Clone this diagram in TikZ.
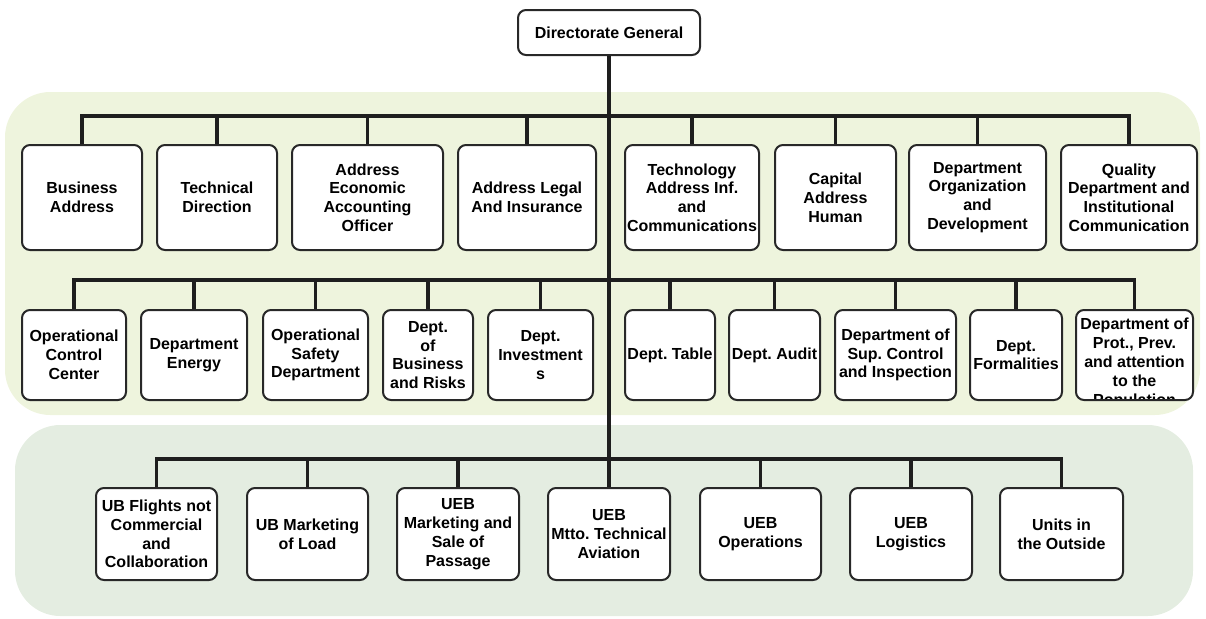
\documentclass[tikz,border=0pt]{standalone}
\usepackage{fontspec}
\setmainfont{Liberation Sans}
\frenchspacing
\definecolor{regA}{RGB}{238,244,221}
\definecolor{regB}{RGB}{228,237,225}
\definecolor{edge}{RGB}{40,40,40}
\definecolor{linec}{RGB}{30,30,30}
\newcommand\orgfont{\bfseries\fontsize{12}{14.1}\selectfont}
\tikzset{
  box/.style={draw=edge, line width=1.5pt, fill=white, rounded corners=6pt,
    align=center, inner sep=1pt, font=\orgfont},
  conn/.style={draw=linec, line width=2.5pt},
  busline/.style={conn, line cap=rect},
  region/.style={rounded corners=34pt}
}
% name, left, right, top, bottom (px), text
\newcommand\ob[6]{\node[box, minimum width={(#3-#2)*0.75pt}, minimum height={(#5-#4)*0.75pt}] (#1) at ({(#2+#3)/2},{(#4+#5)/2}) {#6};}
\begin{document}
\begin{tikzpicture}[x=0.75pt,y=-0.75pt]
\useasboundingbox (0,0) rectangle (1206,618);
\fill[regA, region] (5,92) rectangle (1200,415);
\fill[regB, region] (15,425) rectangle (1193,616);

\ob{dg}{518}{700}{10}{55}{Directorate General}

\ob{a1}{22}{142}{145}{250}{Business\\Address}
\ob{a2}{157}{277}{145}{250}{Technical\\Direction}
\ob{a3}{292}{443}{145}{250}{Address\\Economic\\Accounting\\Officer}
\ob{a4}{458}{596}{145}{250}{Address Legal\\And Insurance}
\ob{a5}{625}{759}{145}{250}{Technology\\Address Inf.\\and\\Communications}
\ob{a6}{775}{896}{145}{250}{Capital\\Address\\Human}
\ob{a7}{909}{1046}{145}{250}{Department\\Organization\\and\\Development}
\ob{a8}{1061}{1197}{145}{250}{Quality\\Department and\\Institutional\\Communication}

\ob{b1}{22}{126}{310}{400}{Operational\\Control\\Center}
\ob{b2}{141}{247}{310}{400}{Department\\Energy}
\ob{b3}{263}{368}{310}{400}{Operational\\Safety\\Department}
\ob{b4}{383}{473}{310}{400}{Dept.\\of\\Business\\and Risks}
\ob{b5}{488}{593}{310}{400}{Dept.\\Investment\\s}
\ob{b6}{625}{715}{310}{400}{Dept. Table}
\ob{b7}{729}{820}{310}{400}{Dept. Audit}
\ob{b8}{835}{956}{310}{400}{Department of\\Sup. Control\\and Inspection}
\ob{b9}{970}{1062}{310}{400}{Dept.\\Formalities}
\node[box, minimum width={117*0.75pt}, minimum height={90*0.75pt},
  path picture={\node[font=\orgfont, align=center, anchor=north, inner sep=0pt]
    at ([yshift=-5.5pt]path picture bounding box.north)
    {Department of\\Prot., Prev.\\and attention\\to the\\Population};}]
  (b10) at (1134.5,355) {};

\ob{c1}{96}{217}{488}{580}{UB Flights not\\Commercial\\and\\Collaboration}
\ob{c2}{247}{368}{488}{580}{UB Marketing\\of Load}
\ob{c3}{397}{519}{488}{580}{UEB\\Marketing and\\Sale of\\Passage}
\ob{c4}{548}{670}{488}{580}{UEB\\Mtto. Technical\\Aviation}
\ob{c5}{700}{821}{488}{580}{UEB\\Operations}
\ob{c6}{850}{972}{488}{580}{UEB\\Logistics}
\ob{c7}{1000}{1123}{488}{580}{Units in\\the Outside}

\coordinate (busA) at (609,116);
\coordinate (busB) at (609,280);
\coordinate (busC) at (609,459);

\draw[conn] (dg.south) -- (c4.north);

\draw[busline] (a1.north |- busA) -- (a8.north |- busA);
\foreach \n in {a1,a2,a3,a4,a5,a6,a7,a8}
  \draw[conn] (\n.north) -- (\n.north |- busA);

\draw[busline] (b1.north |- busB) -- (b10.north |- busB);
\foreach \n in {b1,b2,b3,b4,b5,b6,b7,b8,b9,b10}
  \draw[conn] (\n.north) -- (\n.north |- busB);

\draw[busline] (c1.north |- busC) -- (c7.north |- busC);
\foreach \n in {c1,c2,c3,c5,c6,c7}
  \draw[conn] (\n.north) -- (\n.north |- busC);
\end{tikzpicture}
\end{document}
